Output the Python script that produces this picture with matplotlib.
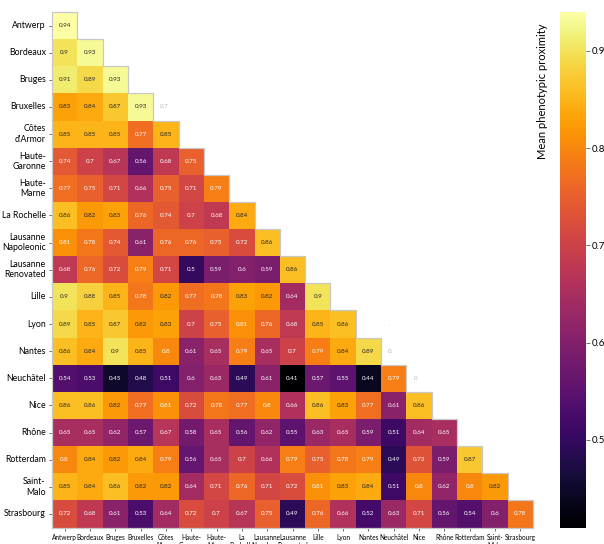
import numpy as np
import matplotlib
matplotlib.use("Agg")
import matplotlib.pyplot as plt
import seaborn as sns

ylabels = ["Antwerp", "Bordeaux", "Bruges", "Bruxelles", "Côtes\nd'Armor", "Haute-\nGaronne",
           "Haute-\nMarne", "La Rochelle", "Lausanne\nNapoleonic", "Lausanne\nRenovated", "Lille",
           "Lyon", "Nantes", "Neuchâtel", "Nice", "Rhône", "Rotterdam", "Saint-\nMalo", "Strasbourg"]
xlabels = ["Antwerp", "Bordeaux", "Bruges", "Bruxelles", "Côtes\nd'Armor", "Haute-\nGaronne",
           "Haute-\nMarne", "La\nRochelle", "Lausanne\nNapoleonic", "Lausanne\nRenovated", "Lille",
           "Lyon", "Nantes", "Neuchâtel", "Nice", "Rhône", "Rotterdam", "Saint-\nMalo", "Strasbourg"]

r_antwerp = [0.94]
r_bordeaux = [0.9, 0.93]
r_bruges = [0.91, 0.89, 0.93]
r_bruxelles = [0.83, 0.84, 0.87, 0.93]
r_cotes = [0.85, 0.85, 0.85, 0.77, 0.85]
r_hgaronne = [0.74, 0.7, 0.67, 0.56, 0.68, 0.75]
r_hmarne = [0.77, 0.75, 0.71, 0.66, 0.75, 0.71, 0.79]
r_larochelle = [0.86, 0.82, 0.83, 0.76, 0.74, 0.7, 0.68, 0.84]
r_lnapoleonic = [0.81, 0.78, 0.74, 0.61, 0.76, 0.76, 0.75, 0.72, 0.86]
r_lrenovated = [0.68, 0.76, 0.72, 0.79, 0.71, 0.5, 0.59, 0.6, 0.59, 0.86]
r_lille = [0.9, 0.88, 0.85, 0.78, 0.82, 0.77, 0.78, 0.83, 0.82, 0.64, 0.9]
r_lyon = [0.89, 0.85, 0.87, 0.82, 0.83, 0.7, 0.75, 0.81, 0.76, 0.68, 0.85, 0.86]
r_nantes = [0.86, 0.84, 0.9, 0.85, 0.8, 0.61, 0.65, 0.79, 0.65, 0.7, 0.79, 0.84, 0.89]
r_neuchatel = [0.54, 0.53, 0.45, 0.48, 0.51, 0.6, 0.63, 0.49, 0.61, 0.41, 0.57, 0.55, 0.44, 0.79]
r_nice = [0.86, 0.86, 0.82, 0.77, 0.81, 0.72, 0.78, 0.77, 0.8, 0.66, 0.86, 0.83, 0.77, 0.61, 0.86]
r_rhone = [0.65, 0.65, 0.62, 0.57, 0.67, 0.58, 0.65, 0.56, 0.62, 0.55, 0.63, 0.65, 0.59, 0.51, 0.64, 0.65]
r_rotterdam = [0.8, 0.84, 0.82, 0.84, 0.79, 0.56, 0.65, 0.7, 0.66, 0.79, 0.75, 0.78, 0.79, 0.49, 0.73,
               0.59, 0.87]
r_saintmalo = [0.85, 0.84, 0.86, 0.82, 0.82, 0.64, 0.71, 0.76, 0.71, 0.72, 0.81, 0.83, 0.84, 0.51, 0.8,
               0.62, 0.8, 0.82]
r_strasbourg = [0.72, 0.68, 0.61, 0.53, 0.64, 0.72, 0.7, 0.67, 0.75, 0.49, 0.76, 0.66, 0.52, 0.63, 0.71,
                0.56, 0.54, 0.6, 0.78]

rows = [r_antwerp, r_bordeaux, r_bruges, r_bruxelles, r_cotes, r_hgaronne, r_hmarne, r_larochelle,
        r_lnapoleonic, r_lrenovated, r_lille, r_lyon, r_nantes, r_neuchatel, r_nice, r_rhone,
        r_rotterdam, r_saintmalo, r_strasbourg]

# faint leftover labels seen in the reference: (row, col, text)
ghost_texts = [(3, 4, "0.7"), (11, 13, "."), (12, 13, "0."), (13, 14, "0")]

N = len(rows)
M = np.full((N, N), np.nan)
for i, r in enumerate(rows):
    M[i, :len(r)] = r
mask = np.isnan(M)

plt.rcParams["font.family"] = ["Lato", "DejaVu Sans"]
fig = plt.figure(figsize=(6.04, 5.44), dpi=100)
ax = fig.add_axes([52 / 604, 1 - 527.5 / 544, 481 / 604, 515.5 / 544])
cax = fig.add_axes([560 / 604, 1 - 527.5 / 544, 26 / 604, 515.5 / 544])

sns.heatmap(M, mask=mask, cmap="inferno", annot=True, fmt="g",
            annot_kws={"fontsize": 4.5}, ax=ax, cbar_ax=cax,
            xticklabels=xlabels, yticklabels=ylabels)

ax.tick_params(axis="y", labelsize=6.3, length=2.5, width=0.6, color="#555555", rotation=0, pad=2)
ax.tick_params(axis="x", labelsize=4.7, length=2.5, width=0.6, color="#555555", rotation=0, pad=2)
for t in ax.get_yticklabels():
    t.set_ha("right")
    t.set_va("center")
for t in ax.get_xticklabels():
    t.set_ha("center")
    t.set_va("top")

# triangle outline
xs = [0, 0]
ys = [N, 0]
for i in range(N):
    xs += [i + 1, i + 1]
    ys += [i, i + 1]
xs += [0]
ys += [N]
ax.plot(xs, ys, color="#c8c8c8", lw=0.9, clip_on=False, zorder=5)

for (ri, ci, s) in ghost_texts:
    ax.text(ci + 0.28, ri + 0.5, s, ha="left", va="center", fontsize=4.5, color="#b8b8b8")

cax.tick_params(labelsize=7, length=3, width=0.6, color="#555555", pad=1.5)
cax.set_yticks([0.5, 0.6, 0.7, 0.8, 0.9])
fig.text(543 / 604, 1 - 91 / 544, "Mean phenotypic proximity", rotation=90, ha="center", va="center",
         fontsize=8)

fig.savefig("out.png", dpi=100)
